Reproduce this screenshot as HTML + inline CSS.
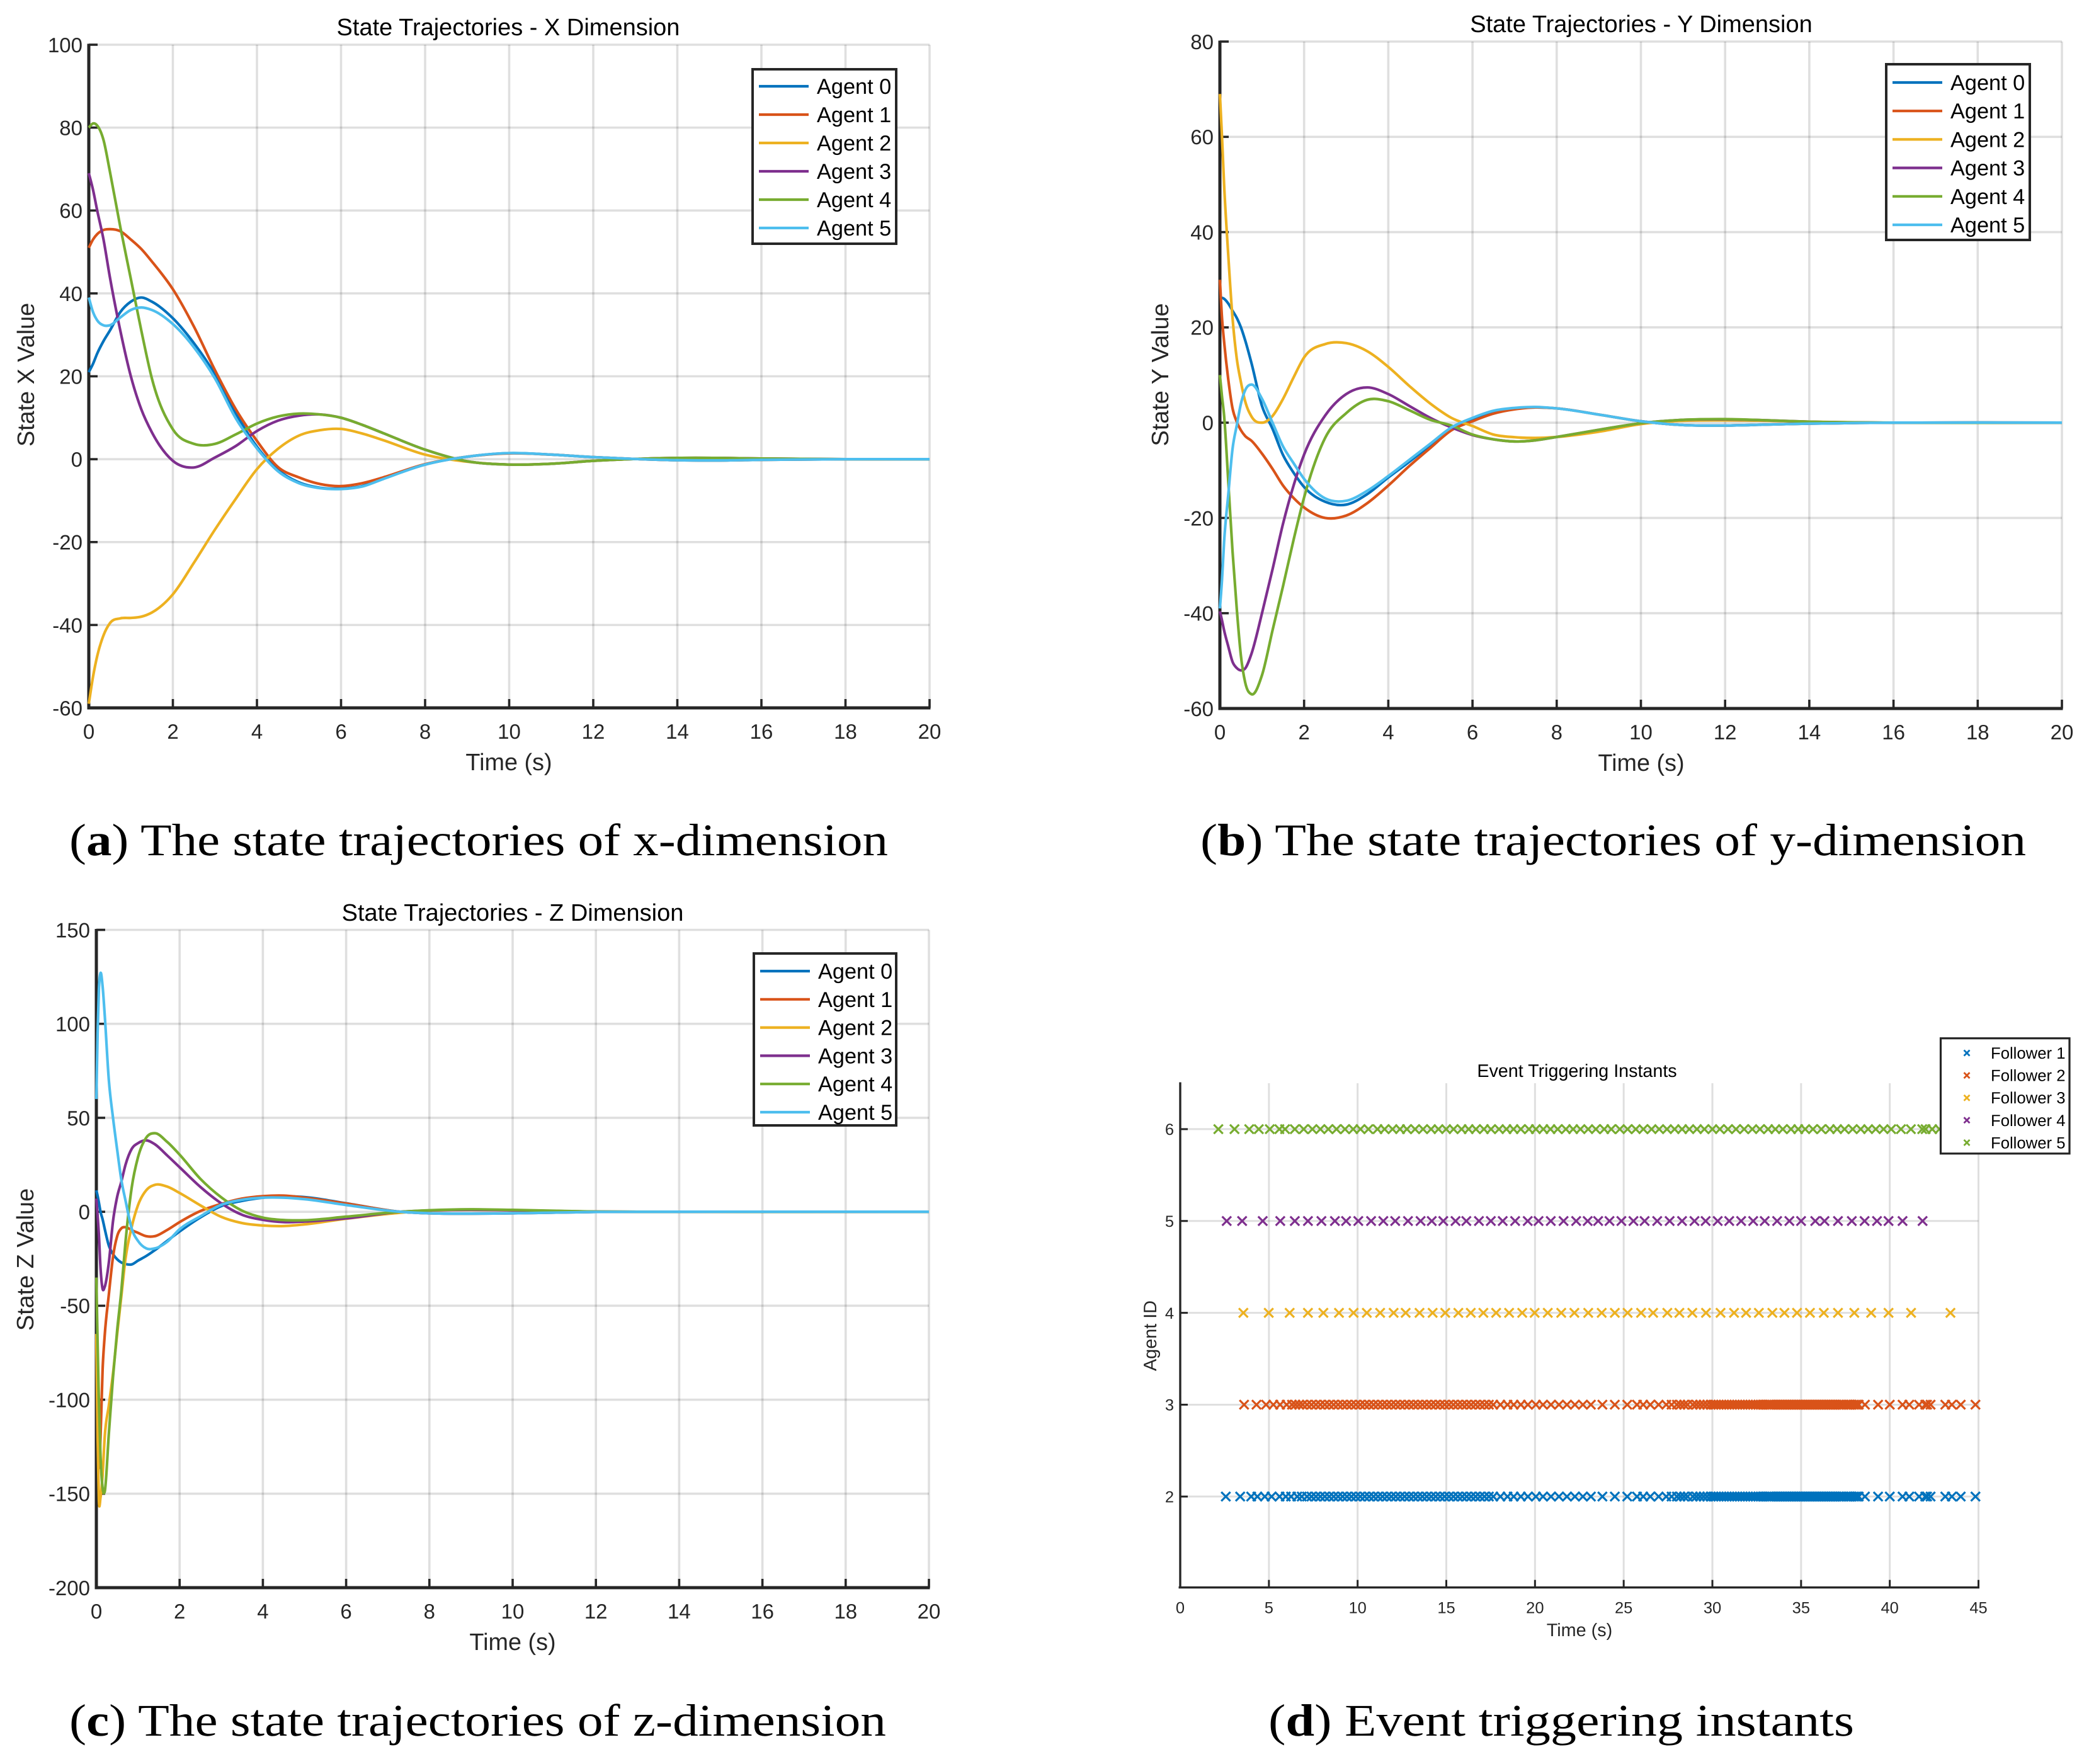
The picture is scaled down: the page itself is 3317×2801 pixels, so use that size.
<!DOCTYPE html>
<html lang="en">
<head>
<meta charset="utf-8">
<title>State trajectories and event triggering instants</title>
<style>
  html, body { margin: 0; padding: 0; background: #fff; }
  svg { display: block; font-family: "Liberation Sans", Arial, sans-serif; text-rendering: geometricPrecision; }
  .caption { font-family: "Liberation Serif", "Times New Roman", serif; font-size: 72px; fill: #000; }
</style>
</head>
<body>
<svg id="figure" xmlns="http://www.w3.org/2000/svg" width="3317" height="2801" viewBox="0 0 3317 2801">
  <rect width="3317" height="2801" fill="#ffffff"/>
  <text class="caption" x="110" y="1358" textLength="1300" lengthAdjust="spacingAndGlyphs">(<tspan font-weight="bold">a</tspan>) The state trajectories of x-dimension</text>
  <text class="caption" x="1906" y="1358" textLength="1311" lengthAdjust="spacingAndGlyphs">(<tspan font-weight="bold">b</tspan>) The state trajectories of y-dimension</text>
  <text class="caption" x="110" y="2756" textLength="1297" lengthAdjust="spacingAndGlyphs">(<tspan font-weight="bold">c</tspan>) The state trajectories of z-dimension</text>
  <text class="caption" x="2014" y="2756" textLength="930" lengthAdjust="spacingAndGlyphs">(<tspan font-weight="bold">d</tspan>) Event triggering instants</text>
</svg>
<script>
// ---------- Shared labels ----------
const agentNames = ['Agent 0','Agent 1','Agent 2','Agent 3','Agent 4','Agent 5'];
const followerNames = ['Follower 1','Follower 2','Follower 3','Follower 4','Follower 5'];
const seriesColors = ['#0072BD','#D95319','#EDB120','#7E2F8E','#77AC30','#4DBEEE'];

// ---------- Panel A: X dimension ----------
const xDimTicksX = [0,2,4,6,8,10,12,14,16,18,20];
const xDimTicksY = [-60,-40,-20,0,20,40,60,80,100];
const xDimTime = [0,.1,.2,.35,.5,.75,1,1.25,1.5,2,2.5,3,3.5,4,4.5,5,5.5,6,6.5,7,8,9,10,11,12,13,14,15,16,18,20];
const xDimAgent0 = [21,23,25.5,28.5,31,35.5,38,39,38,34,28,20.5,11,3,-2.6,-5.6,-6.9,-7.1,-6.5,-4.7,-1.3,.6,1.45,1.1,.5,.05,-.25,-.3,-.15,0,0];
const xDimAgent1 = [51,53,54.3,55.3,55.5,55,53,50.7,47.7,41,32,21.5,12,4.4,-1.9,-4.4,-6,-6.5,-5.8,-4.4,-1.2,.6,1.4,1.1,.5,.05,-.25,-.3,-.15,0,0];
const xDimAgent2 = [-59,-52.5,-47.5,-42.5,-39.6,-38.4,-38.3,-38,-37,-32.6,-25,-17,-9.5,-2.4,2.5,5.7,7,7.3,6.2,4.6,1.1,-.6,-1.3,-1.1,-.4,.05,.3,.3,.15,0,0];
const xDimAgent3 = [69,65,60,53,44,31,20,12,6.5,-.4,-2,.4,3.2,6.8,9.3,10.5,10.8,10,8.3,6.3,2.3,-.5,-1.3,-1.1,-.4,.05,.3,.3,.15,0,0];
const xDimAgent4 = [80,81,80.5,77,69.5,56,43.5,31,19.5,7.2,3.7,3.7,6,8.6,10.3,11,10.8,10,8.3,6.3,2.3,-.5,-1.3,-1.1,-.4,.05,.3,.3,.15,0,0];
const xDimAgent5 = [39,35.5,33.5,32.3,32.3,34.2,36,36.6,36,32.6,27,19.5,9.8,2.6,-2.9,-5.8,-7,-7.2,-6.6,-4.8,-1.3,.6,1.47,1.1,.5,.05,-.25,-.3,-.15,0,0];

// ---------- Panel B: Y dimension ----------
const yDimTicksX = [0,2,4,6,8,10,12,14,16,18,20];
const yDimTicksY = [-60,-40,-20,0,20,40,60,80];
const yDimTime = [0,.05,.1,.2,.3,.4,.5,.6,.75,1,1.25,1.5,1.75,2,2.5,3,3.5,4,4.5,5,5.5,6,6.5,7,7.5,8,9,10,11,12,13,14,16,20];
const yDimAgent0 = [26,26.2,26,25,23.5,22,20,17.3,12.5,3.5,-1.3,-6.8,-10.5,-13.5,-16.6,-17.2,-15,-11.5,-8.2,-4.7,-1.2,.8,2.3,3,3.2,3,1.7,.3,-.5,-.6,-.4,-.2,0,0];
const yDimAgent1 = [30,22,17,9,3,.2,-1.6,-2.8,-3.8,-6.5,-9.7,-13.2,-15.8,-17.8,-20,-19.5,-16.9,-13.2,-9.1,-5.3,-1.6,.3,1.9,2.8,3.2,3,1.7,.3,-.5,-.6,-.4,-.2,0,0];
const yDimAgent2 = [69,60,50,35,22,13.5,8.5,4.5,1.3,0,1.4,5,9.5,13.7,16.5,16.7,15,11.7,7.7,4,1,-.7,-2.5,-3.05,-3.2,-3,-1.9,-.3,.4,.5,.4,.2,0,0];
const yDimAgent3 = [-39.6,-41.5,-43.6,-47,-50.2,-51.5,-52,-51.6,-48.5,-40,-30.8,-21.2,-13.2,-6.7,1.5,6,7.4,6,3.5,1,-1,-2.6,-3.5,-3.95,-3.7,-3,-1.5,-.1,.6,.7,.5,.2,0,0];
const yDimAgent4 = [10,5.5,1.5,-12.5,-27,-39,-49,-54.5,-57,-53,-43.6,-34.3,-24.6,-15.7,-3.2,2,4.8,4.5,2.6,.6,-.6,-2.5,-3.5,-3.95,-3.7,-3,-1.5,-.1,.6,.75,.5,.2,0,0];
const yDimAgent5 = [-39,-33,-25,-15,-5.5,-.6,4,6.8,8,5,0,-5,-8.5,-11.8,-15.9,-16.4,-14.3,-11.2,-7.8,-4.4,-1,1,2.5,3.1,3.3,3,1.7,.3,-.5,-.6,-.4,-.2,0,0];

// ---------- Panel C: Z dimension ----------
const zDimTicksX = [0,2,4,6,8,10,12,14,16,18,20];
const zDimTicksY = [-200,-150,-100,-50,0,50,100,150];
const zDimTime = [0,.03,.06,.1,.15,.2,.3,.4,.5,.6,.7,.85,1,1.2,1.4,1.7,2,2.5,3,3.5,4,4.5,5,6,7.3,8,9,10,12,14,20];
const zDimAgent0 = [11.4,8.5,5,0,-4,-9,-18,-22.5,-25.3,-27,-27.8,-28,-26,-23.5,-20.5,-15.5,-10.5,-3,3,5.8,7.5,8.3,7.8,4.5,0,-.8,-1,-.8,-.1,0,0];
const zDimAgent1 = [-68,-105,-135,-120,-84,-66,-44,-24,-13,-8.8,-8.2,-9.8,-11.2,-13,-13,-9.7,-5.5,.4,4.2,7,8.3,8.6,7.5,4.4,0,-.8,-1,-.8,-.1,0,0];
const zDimAgent2 = [-65,-120,-153,-152,-140,-120,-103,-86,-65,-45,-25,-8,3.5,11.5,14.3,13.4,10,3.4,-2.7,-6,-7.3,-7.6,-6.7,-3.7,-.5,.6,1,.8,.1,0,0];
const zDimAgent3 = [7,-2,-12,-30,-41,-40,-27,-5,8,16,25,33.5,36.5,38,36,30,23.7,13.2,4.5,-1.6,-4.3,-5.5,-5.2,-3.5,0,.7,1,.8,.1,0,0];
const zDimAgent4 = [-35,-70,-100,-130,-147,-149,-118,-88,-63,-42,-16,13,29,39.5,41.8,37.2,30.4,17.5,7.7,.6,-3.1,-4.4,-4.5,-2.6,0,.8,1.3,1,.1,0,0];
const zDimAgent5 = [60,95,118,127,120,105,70,50,33,17,6,-9,-15.5,-19.5,-19.5,-16,-9.3,-2.4,3.7,6.4,7.5,7.5,6.7,3.6,0,-.8,-1,-.8,-.1,0,0];

// ---------- Panel D: Event trigger instants ----------
const eventTicksX = [0,5,10,15,20,25,30,35,40,45];
const eventTicksY = [2,3,4,5,6];
const follower1Times = [2.57,3.38,4.0,4.35,4.77,5.15,5.6,5.95,6.25,6.6,6.85,7.15,7.4,7.65,7.9,8.15,8.4,8.65,8.9,9.15,9.4,9.65,9.9,10.15,10.4,10.65,10.9,11.15,11.4,11.65,11.9,12.15,12.4,12.65,12.9,13.15,13.4,13.65,13.9,14.15,14.4,14.65,14.9,15.15,15.4,15.65,15.9,16.15,16.4,16.65,16.9,17.15,17.4,17.65,18.05,18.45,18.8,19.2,19.6,20.05,20.45,20.9,21.35,21.8,22.25,22.7,23.15,23.8,24.5,25.2,25.75,26.1,26.5,26.97,27.4,27.7,28,28.2,28.4,28.6,28.9,29.1,29.3,29.5,29.7,29.9,30.05,30.2,30.35,30.5,30.65,30.8,30.95,31.1,31.25,31.4,31.55,31.7,31.85,32,32.15,32.3,32.45,32.6,32.72,32.84,32.96,33.08,33.2,33.3,33.4,33.5,33.6,33.7,33.8,33.9,34,34.1,34.2,34.3,34.4,34.5,34.6,34.7,34.8,34.9,35,35.1,35.2,35.3,35.4,35.5,35.6,35.7,35.8,35.9,36,36.1,36.2,36.3,36.4,36.5,36.6,36.7,36.8,36.9,37,37.1,37.2,37.3,37.4,37.55,37.65,37.75,37.85,37.95,38.05,38.15,38.25,38.6,39.34,40.0,40.72,41.1,41.65,42.0,42.1,42.3,43.13,43.5,44.0,44.83];
const follower2Times = [3.6,4.3,4.84,5.25,5.63,6.0,6.3,6.5,6.7,6.9,7.15,7.4,7.65,7.9,8.15,8.4,8.65,8.9,9.15,9.4,9.65,9.9,10.15,10.4,10.65,10.9,11.15,11.4,11.65,11.9,12.15,12.4,12.65,12.9,13.15,13.4,13.65,13.9,14.15,14.4,14.65,14.9,15.15,15.4,15.65,15.9,16.15,16.4,16.65,16.9,17.15,17.4,17.65,18.05,18.45,18.8,19.2,19.6,20.05,20.45,20.9,21.35,21.8,22.25,22.7,23.15,23.8,24.5,25.2,25.75,26.1,26.5,26.97,27.4,27.7,28,28.2,28.4,28.6,28.9,29.1,29.3,29.5,29.7,29.9,30.05,30.2,30.35,30.5,30.65,30.8,30.95,31.1,31.25,31.4,31.55,31.7,31.85,32,32.15,32.3,32.45,32.6,32.72,32.84,32.96,33.08,33.2,33.3,33.4,33.5,33.6,33.7,33.8,33.9,34,34.1,34.2,34.3,34.4,34.5,34.6,34.7,34.8,34.9,35,35.1,35.2,35.3,35.4,35.5,35.6,35.7,35.8,35.9,36,36.1,36.2,36.3,36.4,36.5,36.6,36.7,36.8,36.9,37,37.1,37.2,37.3,37.4,37.55,37.65,37.75,37.85,37.95,38.05,38.15,38.25,38.6,39.34,40.0,40.72,41.1,41.65,42.0,42.1,42.3,43.13,43.5,44.0,44.83];
const follower3Times = [3.56,4.99,6.17,7.2,8.07,8.95,9.77,10.52,11.27,12.03,12.71,13.49,14.23,14.94,15.68,16.38,17.09,17.81,18.54,19.28,19.98,20.72,21.48,22.22,23,23.76,24.5,25.22,25.98,26.66,27.46,28.14,28.87,29.64,30.46,31.22,31.9,32.62,33.38,34.06,34.77,35.5,36.28,37.08,38,38.95,39.93,41.2,43.42];
const follower4Times = [2.62,3.49,4.65,5.64,6.46,7.2,7.96,8.72,9.35,10.04,10.76,11.45,12.12,12.84,13.55,14.18,14.83,15.52,16.13,16.84,17.51,18.18,18.88,19.59,20.2,20.89,21.61,22.32,22.97,23.56,24.2,24.87,25.55,26.18,26.89,27.59,28.29,28.99,29.62,30.3,30.95,31.62,32.3,32.95,33.65,34.34,35.0,35.8,36.32,37.08,37.86,38.58,39.28,39.93,40.72,41.85];
const follower5Times = [2.15,3.06,3.89,4.43,5.05,5.59,5.91,6.46,6.96,7.45,7.9,8.35,8.81,9.29,9.75,10.16,10.61,11.12,11.52,11.97,12.39,12.78,13.24,13.69,14.14,14.56,14.99,15.41,15.86,16.26,16.67,17.12,17.52,17.97,18.39,18.79,19.2,19.66,20.05,20.47,20.87,21.28,21.74,22.15,22.56,23,23.43,23.9,24.3,24.78,25.22,25.68,26.11,26.57,27,27.44,27.87,28.29,28.7,29.13,29.55,30,30.42,30.88,31.33,31.79,32.25,32.68,33.14,33.55,33.97,34.43,34.84,35.23,35.67,36.14,36.62,37.03,37.45,37.91,38.36,38.78,39.21,39.65,40.08,40.63,41.19,41.83,42.02,42.39,42.8];
const followerRows = [2,3,4,5,6];

// ---------- Drawing helpers ----------
const NS = 'http://www.w3.org/2000/svg';
const root = document.getElementById('figure');
const AXIS_COLOR = '#262626';
const GRID_COLOR = 'rgba(38,38,38,0.15)';

function mk(tag, attrs, parent) {
  const node = document.createElementNS(NS, tag);
  for (const k in attrs) node.setAttribute(k, attrs[k]);
  parent.appendChild(node);
  return node;
}

// Smooth cubic Hermite path through the given pixel points (parabolic tangents).
function smoothPath(px, py) {
  const n = px.length;
  const d = [], m = new Array(n);
  for (let i = 0; i < n - 1; i++) d.push((py[i + 1] - py[i]) / (px[i + 1] - px[i]));
  m[0] = d[0];
  m[n - 1] = d[n - 2];
  for (let i = 1; i < n - 1; i++) {
    const h0 = px[i] - px[i - 1], h1 = px[i + 1] - px[i];
    m[i] = (h1 * d[i - 1] + h0 * d[i]) / (h0 + h1);
  }
  let out = 'M' + px[0].toFixed(2) + ' ' + py[0].toFixed(2);
  for (let i = 0; i < n - 1; i++) {
    const h = (px[i + 1] - px[i]) / 3;
    out += 'C' + (px[i] + h).toFixed(2) + ' ' + (py[i] + m[i] * h).toFixed(2) + ' ' +
      (px[i + 1] - h).toFixed(2) + ' ' + (py[i + 1] - m[i + 1] * h).toFixed(2) + ' ' +
      px[i + 1].toFixed(2) + ' ' + py[i + 1].toFixed(2);
  }
  return out;
}

function drawFrame(g, cfg, sx, sy) {
  for (const v of cfg.ticksX) {
    const grid = mk('line', {x1: sx(v), x2: sx(v), y1: cfg.top, y2: cfg.bottom, stroke: GRID_COLOR, 'stroke-width': cfg.gridW}, g);
    
    
  }
  for (const v of cfg.gridY) {
    const grid = mk('line', {x1: cfg.left, x2: cfg.right, y1: sy(v), y2: sy(v), stroke: GRID_COLOR, 'stroke-width': cfg.gridW}, g);
    
    
  }
}

function drawAxes(g, cfg, sx, sy) {
  const xAxis = mk('line', {x1: cfg.left - 2.5, x2: cfg.right + 1.5, y1: cfg.bottom, y2: cfg.bottom, stroke: AXIS_COLOR, 'stroke-width': cfg.axisW}, g);
  
  
  const yAxis = mk('line', {x1: cfg.left, x2: cfg.left, y1: cfg.top - 1.5, y2: cfg.bottom, stroke: AXIS_COLOR, 'stroke-width': cfg.axisW}, g);
  
  
  for (const v of cfg.ticksX) {
    const tick = mk('line', {x1: sx(v), x2: sx(v), y1: cfg.bottom, y2: cfg.bottom - cfg.tickLen, stroke: AXIS_COLOR, 'stroke-width': cfg.tickW}, g);
    
    
    const label = mk('text', {x: sx(v), y: cfg.bottom + cfg.xLabelGap, 'text-anchor': 'middle', 'font-size': cfg.tickFont, fill: AXIS_COLOR}, g);
    label.textContent = String(v);
    
    
  }
  for (const v of cfg.ticksY) {
    const tick = mk('line', {x1: cfg.left, x2: cfg.left + cfg.tickLen, y1: sy(v), y2: sy(v), stroke: AXIS_COLOR, 'stroke-width': cfg.tickW}, g);
    
    
    const label = mk('text', {x: cfg.left - 10, y: sy(v) + cfg.tickFont * 0.36, 'text-anchor': 'end', 'font-size': cfg.tickFont, fill: AXIS_COLOR}, g);
    label.textContent = String(v);
    
    
  }
  const title = mk('text', {x: cfg.titleX, y: cfg.titleY, 'text-anchor': 'middle', 'font-size': cfg.titleFont, fill: '#000'}, g);
  title.textContent = cfg.title;
  
  
  const xTitle = mk('text', {x: cfg.xTitleX, y: cfg.xTitleY, 'text-anchor': 'middle', 'font-size': cfg.labelFont, fill: AXIS_COLOR}, g);
  xTitle.textContent = cfg.xTitle;
  
  
  const yTitle = mk('text', {transform: 'translate(' + cfg.yTitleX + ' ' + cfg.yTitleY + ') rotate(-90)', 'text-anchor': 'middle', 'font-size': cfg.labelFont, fill: AXIS_COLOR}, g);
  yTitle.textContent = cfg.yTitle;
  
  
}

function drawLegendBox(g, box) {
  const bg = mk('rect', {x: box.x, y: box.y, width: box.w, height: box.h, fill: '#fff', stroke: AXIS_COLOR, 'stroke-width': box.stroke}, g);
  
  
}

function drawTrajectoryPanel(cfg, time, seriesList) {
  const g = mk('g', {}, root);
  
  
  const sx = v => cfg.left + (v - cfg.xMin) / (cfg.xMax - cfg.xMin) * (cfg.right - cfg.left);
  const sy = v => cfg.bottom - (v - cfg.yMin) / (cfg.yMax - cfg.yMin) * (cfg.bottom - cfg.top);
  drawFrame(g, cfg, sx, sy);
  drawAxes(g, cfg, sx, sy);
  seriesList.forEach((values, i) => {
    const d = smoothPath(time.map(sx), values.map(sy));
    const line = mk('path', {d: d, fill: 'none', stroke: seriesColors[i], 'stroke-width': 4.2, 'stroke-linejoin': 'round'}, g);
    
    
  });
  drawLegendBox(g, cfg.legend);
  agentNames.forEach((label, i) => {
    const rowY = cfg.legend.y + cfg.legend.firstRow + i * cfg.legend.rowGap;
    const swatch = mk('line', {x1: cfg.legend.x + 10, x2: cfg.legend.x + 89, y1: rowY, y2: rowY, stroke: seriesColors[i], 'stroke-width': 4.2}, g);
    
    
    const text = mk('text', {x: cfg.legend.x + 102, y: rowY + 12, 'font-size': 34.3, fill: '#000'}, g);
    text.textContent = label;
    
    
  });
}

function drawCross(g, x, y, r, color, w) {
  const mark = mk('path', {d: 'M' + (x - r) + ' ' + (y - r) + 'L' + (x + r) + ' ' + (y + r) + 'M' + (x - r) + ' ' + (y + r) + 'L' + (x + r) + ' ' + (y - r), stroke: color, 'stroke-width': w, fill: 'none'}, g);
  return mark;
}

function drawEventPanel(cfg, timesList) {
  const g = mk('g', {}, root);
  
  
  const sx = v => cfg.left + (v - cfg.xMin) / (cfg.xMax - cfg.xMin) * (cfg.right - cfg.left);
  const sy = v => cfg.bottom - (v - cfg.yMin) / (cfg.yMax - cfg.yMin) * (cfg.bottom - cfg.top);
  drawFrame(g, cfg, sx, sy);
  drawAxes(g, cfg, sx, sy);
  timesList.forEach((times, i) => {
    const row = mk('g', {}, g);
    
    
    for (const t of times) {
      const mark = drawCross(row, sx(t), sy(followerRows[i]), 7.2, seriesColors[i], 3.2);
      
      
    }
  });
  drawLegendBox(g, cfg.legend);
  followerNames.forEach((label, i) => {
    const rowY = cfg.legend.y + cfg.legend.firstRow + i * cfg.legend.rowGap;
    const swatch = drawCross(g, cfg.legend.x + 41.5, rowY, 4.5, seriesColors[i], 2.8);
    
    
    const text = mk('text', {x: cfg.legend.x + 79.5, y: rowY + 9, 'font-size': 25.7, fill: '#000'}, g);
    text.textContent = label;
    
    
  });
}

// ---------- Render ----------
const lineStyle = {xMin: 0, xMax: 20, tickLen: 14, tickW: 3.6, axisW: 5, gridW: 3.6, tickFont: 33, labelFont: 37.8, titleFont: 38, xLabelGap: 49, xTitle: 'Time (s)'};

drawTrajectoryPanel(Object.assign({}, lineStyle, {
  name: 'x-dimension-panel', left: 141, right: 1476, top: 71, bottom: 1124,
  yMin: -60, yMax: 100, ticksX: xDimTicksX, ticksY: xDimTicksY, gridY: xDimTicksY,
  title: 'State Trajectories - X Dimension', titleX: 807, titleY: 56,
  xTitleX: 808, xTitleY: 1223, yTitle: 'State X Value', yTitleX: 54, yTitleY: 595,
  legend: {x: 1195, y: 110, w: 228, h: 277, stroke: 4, firstRow: 27, rowGap: 45}
}), xDimTime, [xDimAgent0, xDimAgent1, xDimAgent2, xDimAgent3, xDimAgent4, xDimAgent5]);

drawTrajectoryPanel(Object.assign({}, lineStyle, {
  name: 'y-dimension-panel', left: 1937, right: 3274, top: 66, bottom: 1125,
  yMin: -60, yMax: 80, ticksX: yDimTicksX, ticksY: yDimTicksY, gridY: yDimTicksY,
  title: 'State Trajectories - Y Dimension', titleX: 2606, titleY: 51,
  xTitleX: 2606, xTitleY: 1224, yTitle: 'State Y Value', yTitleX: 1855, yTitleY: 595,
  legend: {x: 2995, y: 102, w: 228, h: 279, stroke: 4, firstRow: 29, rowGap: 45.2}
}), yDimTime, [yDimAgent0, yDimAgent1, yDimAgent2, yDimAgent3, yDimAgent4, yDimAgent5]);

drawTrajectoryPanel(Object.assign({}, lineStyle, {
  name: 'z-dimension-panel', left: 153, right: 1475, top: 1476.5, bottom: 2521,
  yMin: -200, yMax: 150, ticksX: zDimTicksX, ticksY: zDimTicksY, gridY: zDimTicksY,
  title: 'State Trajectories - Z Dimension', titleX: 814, titleY: 1462,
  xTitleX: 814, xTitleY: 2620, yTitle: 'State Z Value', yTitleX: 53, yTitleY: 2000,
  legend: {x: 1197, y: 1514, w: 226, h: 273, stroke: 4, firstRow: 28, rowGap: 44.8}
}), zDimTime, [zDimAgent0, zDimAgent1, zDimAgent2, zDimAgent3, zDimAgent4, zDimAgent5]);

drawEventPanel({
  name: 'event-trigger-panel', left: 1874, right: 3141.5, top: 1720, bottom: 2520.7,
  xMin: 0, xMax: 45, yMin: 1.01, yMax: 6.5, ticksX: eventTicksX, ticksY: eventTicksY, gridY: eventTicksY,
  tickLen: 12, tickW: 3, axisW: 3.4, gridW: 3, tickFont: 25.5, labelFont: 28.8, titleFont: 28.7, xLabelGap: 41,
  title: 'Event Triggering Instants', titleX: 2504, titleY: 1710,
  xTitle: 'Time (s)', xTitleX: 2508, xTitleY: 2598, yTitle: 'Agent ID', yTitleX: 1836, yTitleY: 2121,
  legend: {x: 3081.5, y: 1648.7, w: 204.5, h: 183, stroke: 3.2, firstRow: 23.3, rowGap: 35.6}
}, [follower1Times, follower2Times, follower3Times, follower4Times, follower5Times]);
</script>
</body>
</html>
